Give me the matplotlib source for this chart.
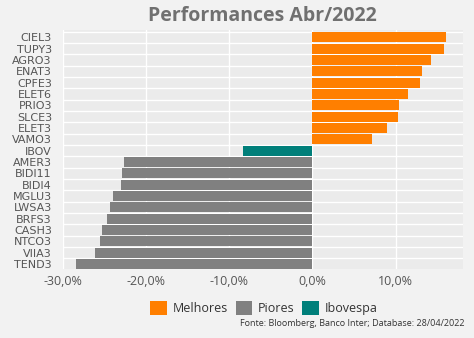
import matplotlib
matplotlib.use("Agg")
import matplotlib.pyplot as plt
from matplotlib.patches import Patch
from matplotlib.ticker import FixedLocator, FuncFormatter

plt.rcParams['font.family'] = ['Open Sans', 'DejaVu Sans']

tickers = ["CIEL3", "TUPY3", "AGRO3", "ENAT3", "CPFE3", "ELET6", "PRIO3", "SLCE3",
           "ELET3", "VAMO3", "IBOV", "AMER3", "BIDI11", "BIDI4", "MGLU3", "LWSA3",
           "BRFS3", "CASH3", "NTCO3", "VIIA3", "TEND3"]
values = [16.0, 15.8, 14.2, 13.2, 12.9, 11.5, 10.4, 10.3, 9.0, 7.1,
          -8.35, -22.7, -22.9, -23.0, -24.0, -24.3, -24.7, -25.3, -25.6, -26.1, -28.4]
groups = ["Melhores"] * 10 + ["Ibovespa"] + ["Piores"] * 10
group_colors = {"Melhores": "#ff7f00", "Piores": "#808080", "Ibovespa": "#007f7a"}
legend_order = ["Melhores", "Piores", "Ibovespa"]
xticks = [-30, -20, -10, 0, 10]

fig = plt.figure(figsize=(4.74, 3.38), dpi=100, facecolor="#f2f2f2")
ax = fig.add_axes([63/474, 1-269/338, 400/474, 239/338])
ax.set_facecolor("#ebebeb")

ypos = list(range(len(tickers)))
ax.barh(ypos, values, height=0.88, color=[group_colors[g] for g in groups], zorder=3)

ax.set_xlim(-30, 18.1)
ax.set_ylim(20.45, -0.65)
ax.set_yticks(ypos)
ax.set_yticklabels(tickers, fontfamily=['DejaVu Sans'])
ax.yaxis.set_minor_locator(FixedLocator([i + 0.5 for i in range(-1, len(tickers))]))
ax.set_xticks(xticks)
ax.xaxis.set_major_formatter(FuncFormatter(lambda v, p: f"{v:.1f}%".replace(".", ",")))
ax.grid(axis="x", which="major", color="white", linewidth=1.0, zorder=1)
ax.grid(axis="y", which="minor", color="white", linewidth=1.0, zorder=1)
ax.tick_params(axis="both", which="both", length=0)
ax.tick_params(axis="y", pad=8, labelsize=8, labelcolor="#555555")
ax.tick_params(axis="x", pad=4, labelsize=9, labelcolor="#555555")
for s in ax.spines.values():
    s.set_visible(False)

fig.text(262/474, 1-16/338, "Performances Abr/2022", ha="center", va="center",
         fontsize=14, fontweight="bold", color="#707070")

handles = [Patch(facecolor=group_colors[g], label=g) for g in legend_order]
fig.legend(handles=handles, loc="center", bbox_to_anchor=(264/474, 1-308/338), ncol=3,
           frameon=False, fontsize=9, handlelength=1.3, handleheight=1.3,
           handletextpad=0.5, columnspacing=0.6, labelcolor="#333333")

fig.text(464/474, 1-324/338, "Fonte: Bloomberg, Banco Inter; Database: 28/04/2022",
         ha="right", va="center", fontsize=6.5, color="#333333")

fig.savefig("out.png", dpi=100, facecolor=fig.get_facecolor())
